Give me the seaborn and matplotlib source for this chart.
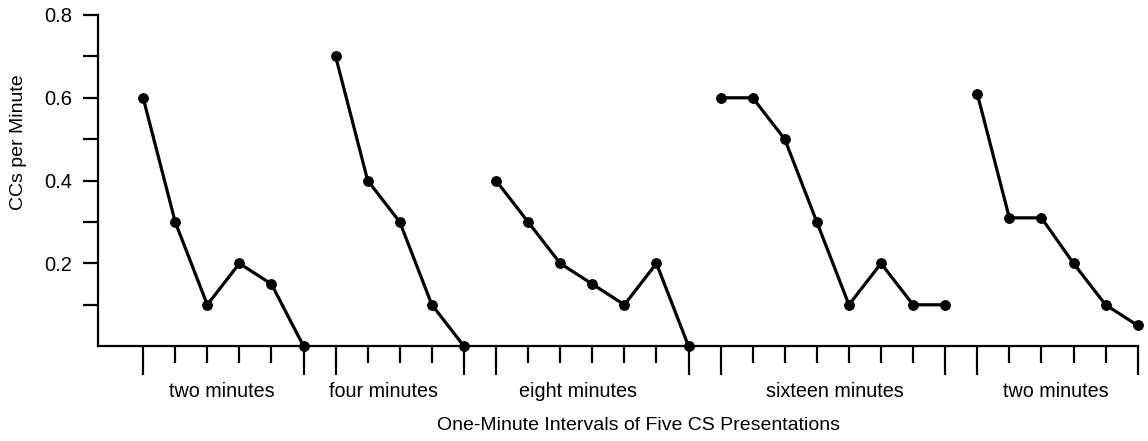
import numpy as np
import pandas as pd
import matplotlib
matplotlib.use("Agg")
import matplotlib.pyplot as plt
import matplotlib.transforms as mtransforms
import seaborn as sns

# ---- data ----
segment_labels = ["two minutes", "four minutes", "eight minutes", "sixteen minutes", "two minutes"]
seg1 = [0.60, 0.30, 0.10, 0.20, 0.15, 0.00]
seg2 = [0.70, 0.40, 0.30, 0.10, 0.00]
seg3 = [0.40, 0.30, 0.20, 0.15, 0.10, 0.20, 0.00]
seg4 = [0.60, 0.60, 0.50, 0.30, 0.10, 0.20, 0.10, 0.10]
seg5 = [0.61, 0.31, 0.31, 0.20, 0.10, 0.05]
y_tick_labels = ["0.2", "0.4", "0.6", "0.8"]
x_label = "One-Minute Intervals of Five CS Presentations"
y_label = "CCs per Minute"

series = [seg1, seg2, seg3, seg4, seg5]
rows = []
pos = 0
starts = []
for k, vals in enumerate(series):
    starts.append(pos)
    for v in vals:
        rows.append({"interval": pos, "ccs": v, "segment": k})
        pos += 1
df = pd.DataFrame(rows)
n_total = pos

sns.set_theme(style="white")
plt.rcParams['font.family'] = ['Liberation Sans', 'DejaVu Sans']

fig = plt.figure(figsize=(11.48, 4.41), dpi=100)
ax = fig.add_axes([0.085, 0.215, 0.906, 0.751])

sns.lineplot(data=df, x="interval", y="ccs", units="segment", estimator=None,
             color="black", linewidth=2.3, marker="o", markersize=7,
             markeredgecolor="black", markerfacecolor="black",
             sort=False, ax=ax, legend=False, clip_on=False, zorder=5)

ax.set_xlim(-1.42, n_total - 1)
ax.set_ylim(0, 0.8)

for s in ["top", "right"]:
    ax.spines[s].set_visible(False)
for s in ["left", "bottom"]:
    ax.spines[s].set_color("black")
    ax.spines[s].set_linewidth(1.6)

# x ticks: long at segment boundaries, short elsewhere
ends = [starts[i] + len(series[i]) - 1 for i in range(len(series))]
major_x = sorted(set(starts + ends))
minor_x = [i for i in range(n_total) if i not in major_x]
ax.set_xticks(major_x)
ax.set_xticks(minor_x, minor=True)
ax.set_xticklabels([])
ax.tick_params(axis="x", which="major", direction="out", length=21, width=1.6, color="black", bottom=True)
ax.tick_params(axis="x", which="minor", direction="out", length=12.5, width=1.6, color="black", bottom=True)

ax.set_yticks([0.2, 0.4, 0.6, 0.8])
ax.set_yticklabels(y_tick_labels)
ax.set_yticks([0.1, 0.3, 0.5, 0.7], minor=True)
ax.tick_params(axis="y", which="both", direction="out", length=11, width=1.6, color="black", left=True)
ax.tick_params(axis="y", which="major", labelsize=14.5, pad=7, labelcolor="black")

ax.set_xlabel("")
ax.set_ylabel("")

# segment labels
label_x = [2.46, 7.48, 13.55, 21.56, 28.44]
trans = mtransforms.blended_transform_factory(ax.transData, fig.transFigure)
for lx, lab in zip(label_x, segment_labels):
    ax.text(lx, 0.113, lab, transform=trans, ha="center", va="center",
            fontsize=14.2, color="black")

fig.text(0.556, 0.036, x_label, ha="center", va="center", fontsize=14, color="black")
fig.text(0.016, 0.678, y_label, ha="center", va="center", rotation=90, fontsize=14, color="black")

fig.savefig("out.png", dpi=100, facecolor="white")
